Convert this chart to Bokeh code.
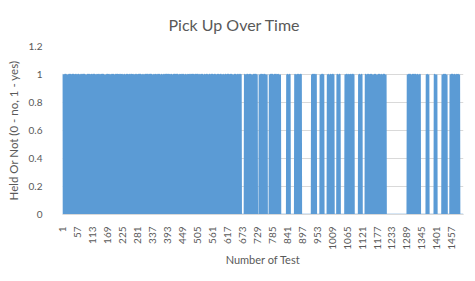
import math
from bokeh.plotting import figure
from bokeh.models import Range1d, FixedTicker
from bokeh.embed import file_html
from bokeh.resources import INLINE

# ---- data: held (1) or not (0) per test, read as segments from the picture ----
held_segments = [
    # tests 1-668: dense alternation
    "1101001011" "1011010010" "1001101101" "1010011011" "0110100110"
    "0101101001" "1101001011" "1010011011" "1011010010" "1001101101"
    "0110100110" "1001101101" "1101001011" "0101101001" "1010011011"
    "1011010010" "1010011011" "0101101001" "0110100110" "1101001011"
    "1001101101" "0110100110" "1011010010" "1101001011" "0101101001"
    "1010011011" "0101101001" "0110100110" "1001101101" "1011010010"
    "1101001011" "1001101101" "1010011011" "1011010010" "0110100110"
    "0101101001" "1011010010" "1101001011" "1010011011" "1001101101"
    "0110100110" "1010011011" "1001101101" "1101001011" "0101101001"
    "1011010010" "1101001011" "0101101001" "1001101101" "1010011011"
    "1001101101" "0101101001" "1011010010" "0110100110" "1101001011"
    "1010011011" "0110100110" "1101001011" "0101101001" "1011010010"
    "1101001011" "1010011011" "0110100110" "1011010010" "1001101101"
    "0101101001" "11010011",
    "0000000000" "000",                                   # 669-681
    "1101001011" "0110100110" "1011010010" "1001101101" "1011001",  # 682-728
    "00000000",                                           # 729-736
    "1010011011" "0101101001" "110100101",                # 737-765
    "000000000",                                          # 766-774
    "1001101101" "1101001011" "0110100110" "1011010010" "1",  # 775-815
    "0000000000" "0000000000" "0000",                     # 816-839
    "1011010010" "11",                                    # 840-851
    "0000000000" "00000000",                              # 852-869
    "1101001011" "0101101001" "1011",                     # 870-893
    "0000000000" "0000000000" "0000000000" "000000000",   # 894-932
    "1001101101" "1010011",                               # 933-949
    "0000000000" "00000",                                 # 950-964
    "1010011011" "101",                                   # 965-977
    "0000000000" "0000",                                  # 978-991
    "1011010010" "0110100110" "1101",                     # 992-1015
    "0000000000" "00",                                    # 1016-1027
    "1101001011" "1",                                     # 1028-1038
    "0000000000" "000000000",                             # 1039-1057
    "1001101101" "0101101001" "1010011011" "101",         # 1058-1090
    "0000000000" "00000000",                              # 1091-1108
    "1011010010" "11",                                    # 1109-1120
    "0000000000" "000",                                   # 1121-1133
    "1101001011" "0110100110" "1011010010" "1001101101",  # 1134-1173
    "000",                                                # 1174-1176
    "1010011011" "01",                                    # 1177-1188
    "000",                                                # 1189-1191
    "1101001011" "101101001",                             # 1192-1210
    "0000000000" "0000000000" "0000000000" "0000000000"
    "0000000000" "0000000000" "0000000000" "0000000000",  # 1211-1290
    "1001101101" "1101001011" "0110100110" "11",          # 1291-1322
    "000",                                                # 1323-1325
    "1011010010" "011",                                   # 1326-1338
    "0000000000" "0000000000" "000",                      # 1339-1361
    "101101001",                                          # 1362-1370
    "0000000000" "0000000000" "0",                        # 1371-1391
    "110100101",                                          # 1392-1400
    "0000000000" "0000000000",                            # 1401-1420
    "1010011011" "01101001",                              # 1421-1438
    "0000000000" "00",                                    # 1439-1450
    "1001101101" "101",                                   # 1451-1463
    "000",                                                # 1464-1466
    "1101001011" "010110101",                             # 1467-1485
    "0000000000" "00000",                                 # 1486-1500
]
held = [int(c) for c in "".join(held_segments)]
tests = list(range(1, len(held) + 1))

test_ticks = [1, 57, 113, 169, 225, 281, 337, 393, 449, 505, 561, 617, 673, 729,
              785, 841, 897, 953, 1009, 1065, 1121, 1177, 1233, 1289, 1345, 1401, 1457]
test_tick_labels = ["1", "57", "113", "169", "225", "281", "337", "393", "449", "505",
                    "561", "617", "673", "729", "785", "841", "897", "953", "1009",
                    "1065", "1121", "1177", "1233", "1289", "1345", "1401", "1457"]
held_ticks = [0, 0.2, 0.4, 0.6, 0.8, 1.0, 1.2]
held_tick_labels = ["0", "0.2", "0.4", "0.6", "0.8", "1", "1.2"]

TITLE = "Pick Up Over Time"
X_LABEL = "Number of Test"
Y_LABEL = "Held Or Not (0 - no, 1 - yes)"

FONT = "Lato"
TEXT = "#595959"
BLUE = "#5B9BD5"

n = len(held)
p = figure(width=475, height=281, output_backend="svg", toolbar_location=None,
           x_range=Range1d(0.5, n + 0.5), y_range=Range1d(0, 1.2),
           min_border_left=62, min_border_right=12, min_border_top=44,
           min_border_bottom=67, title=TITLE)
p.outline_line_color = None
p.background_fill_color = "white"
p.border_fill_color = "white"

p.title.align = "left"
p.title.offset = 106
p.title.text_font = FONT
p.title.text_font_size = "16px"
p.title.text_font_style = "normal"
p.title.text_color = TEXT
p.title.text_line_height = 0.8
p.title.standoff = 25

p.line(tests, held, line_color=BLUE, line_width=1.5, line_join="bevel")

# axes
xa = p.xaxis[0]
xa.ticker = FixedTicker(ticks=test_ticks)
xa.major_label_overrides = {t: l for t, l in zip(test_ticks, test_tick_labels)}
xa.major_label_orientation = math.pi / 2
xa.axis_line_color = "#D9D9D9"
xa.major_tick_line_color = None
xa.minor_tick_line_color = None
xa.major_label_standoff = 6
xa.major_label_text_font = FONT
xa.major_label_text_font_size = "10px"
xa.major_label_text_color = TEXT
xa.axis_label = X_LABEL
xa.axis_label_text_font = FONT
xa.axis_label_text_font_size = "11px"
xa.axis_label_text_font_style = "normal"
xa.axis_label_text_color = TEXT
xa.axis_label_standoff = 0

ya = p.yaxis[0]
ya.ticker = FixedTicker(ticks=held_ticks)
ya.major_label_overrides = {t: l for t, l in zip(held_ticks, held_tick_labels)}
ya.axis_line_color = None
ya.major_tick_line_color = None
ya.minor_tick_line_color = None
ya.major_label_standoff = 14
ya.major_label_text_font = FONT
ya.major_label_text_font_size = "10px"
ya.major_label_text_color = TEXT
ya.axis_label = Y_LABEL
ya.axis_label_text_font = FONT
ya.axis_label_text_font_size = "11.5px"
ya.axis_label_text_font_style = "normal"
ya.axis_label_text_color = TEXT
ya.axis_label_standoff = 6

p.xgrid.grid_line_color = None
p.ygrid.grid_line_color = "#D9D9D9"
p.ygrid.grid_line_width = 1

open("out.html", "w").write(file_html(p, INLINE))
